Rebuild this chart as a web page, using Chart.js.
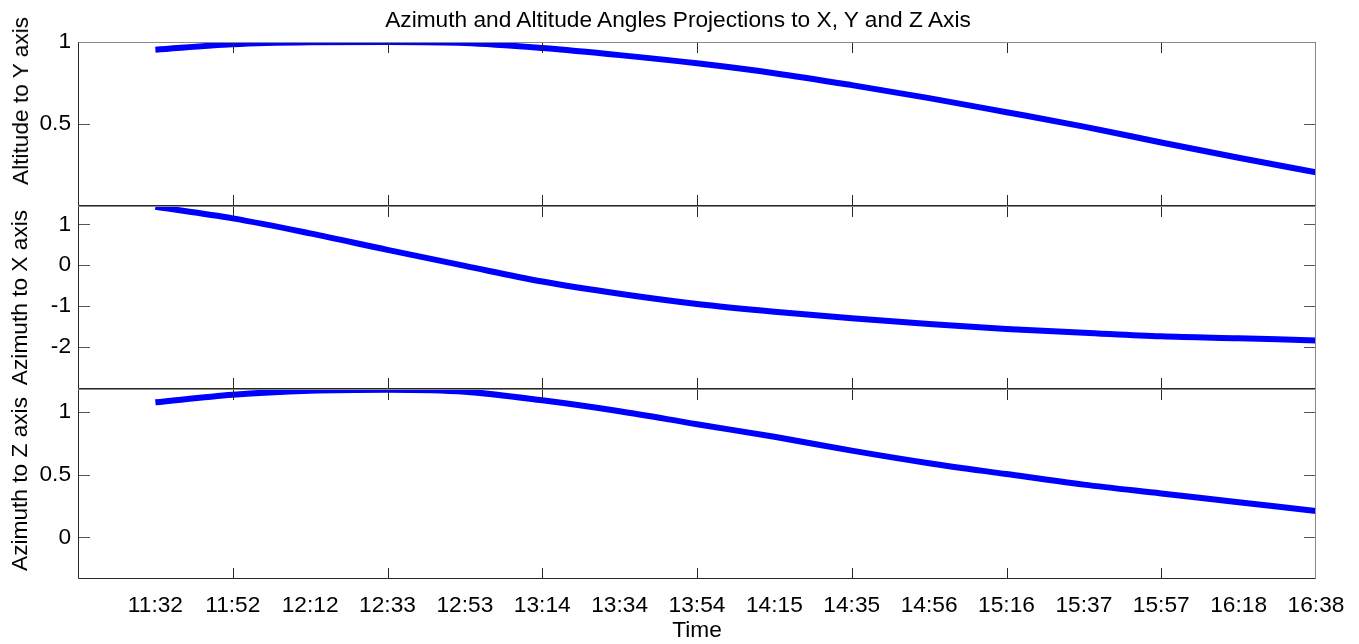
<!DOCTYPE html>
<html>
<head>
<meta charset="utf-8">
<script src="https://cdn.jsdelivr.net/npm/chart.js@4"></script>
<style>
  html, body { margin: 0; padding: 0; background: #fff; }
  #wrap { position: relative; width: 1359px; height: 644px; }
  #wrap canvas { position: absolute; left: 0; top: 0; }
  .txt {
    position: absolute; font: 22.7px "Liberation Sans", Arial, Helvetica, sans-serif;
    color: #000; white-space: nowrap; line-height: 28px;
  }
  #title { left: 40px; width: 1276px; top: 5px; text-align: center; }
  #topLabel { left: 20px; top: 101px; transform: translate(-50%, -50%) rotate(-90deg); }
</style>
</head>
<body>
<div id="wrap">
  <canvas id="altY" width="1359" height="644"></canvas>
  <canvas id="aziX" width="1359" height="644"></canvas>
  <canvas id="aziZ" width="1359" height="644"></canvas>
  <div id="title" class="txt">Azimuth and Altitude Angles Projections to X, Y and Z Axis</div>
  <div id="topLabel" class="txt">Altitude to Y axis</div>
</div>
<script>
// time labels, one per sample
const timeLabels = ['11:32', '11:52', '12:12', '12:33', '12:53', '13:14', '13:34', '13:54',
  '14:15', '14:35', '14:56', '15:16', '15:37', '15:57', '16:18', '16:38'];

// values at each time label
const altitudeToY = [0.953, 0.986, 0.998, 1.0, 0.994, 0.963, 0.92, 0.87,
  0.81, 0.737, 0.658, 0.572, 0.484, 0.387, 0.294, 0.206];
const azimuthToX = [1.43, 1.147, 0.78, 0.376, -0.016, -0.40, -0.70, -0.95,
  -1.14, -1.30, -1.44, -1.56, -1.65, -1.74, -1.79, -1.84];
const azimuthToZ = [1.074, 1.135, 1.167, 1.175, 1.159, 1.09, 1.003, 0.90,
  0.80, 0.69, 0.59, 0.504, 0.42, 0.35, 0.28, 0.21];

// y tick values per panel
const ticksAltY = [0.5, 1];
const ticksAziX = [-2, -1, 0, 1];
const ticksAziZ = [0, 0.5, 1];

Chart.defaults.font.family = '"Liberation Sans", Arial, Helvetica, sans-serif';
Chart.defaults.font.size = 22.7;
Chart.defaults.color = '#000';

const points = vals => vals.map((v, i) => ({ x: i, y: v }));

// matlab style box with inward tick marks
const boxPlugin = {
  id: 'matlabBox',
  afterDatasetsDraw(chart) {
    const { ctx, chartArea: a, scales: { x, y } } = chart;
    const seg = (x1, y1, x2, y2) => { ctx.beginPath(); ctx.moveTo(x1, y1); ctx.lineTo(x2, y2); ctx.stroke(); };
    ctx.save();
    ctx.lineWidth = 1;
    ctx.strokeStyle = '#262626';
    // skip the two ends, they sit on the box edges
    for (let v = x.min + 2; v < x.max - 0.001; v += 2) {
      const px = Math.round(x.getPixelForValue(v)) + 0.5;
      seg(px, a.top, px, a.top + 11);
      seg(px, a.bottom, px, a.bottom - 11);
    }
    ctx.strokeStyle = '#555';
    y.ticks.forEach(t => {
      const py = Math.round(y.getPixelForValue(t.value)) + 0.5;
      seg(a.left, py, a.left + 12, py);
      seg(a.right, py, a.right - 12, py);
    });
    const l = Math.round(a.left) + 0.5, r = Math.round(a.right) - 0.5;
    const t = Math.round(a.top) + 0.5, b = Math.round(a.bottom) - 0.5;
    ctx.strokeStyle = '#888';
    seg(l, t, r, t);
    seg(r, t, r, b);
    ctx.strokeStyle = '#262626';
    seg(l, t, l, b);
    seg(l, b, r, b);
    ctx.restore();
  }
};

function makePanel(id, values, yMin, yMax, yTicks, yTitle, padTop, padBottom, isBottom) {
  return new Chart(document.getElementById(id), {
    type: 'line',
    data: {
      datasets: [{
        data: points(values),
        borderColor: '#0000ff',
        borderWidth: 6,
        pointRadius: 0,
        cubicInterpolationMode: 'monotone',
        fill: false,
        clip: 0
      }]
    },
    options: {
      responsive: false,
      animation: false,
      devicePixelRatio: 1,
      layout: { padding: { left: 0, right: 43, top: padTop, bottom: padBottom } },
      plugins: {
        legend: { display: false },
        tooltip: { enabled: false }
      },
      scales: {
        x: {
          type: 'linear',
          min: -1,
          max: 15,
          display: isBottom,
          grid: { display: false, drawTicks: false },
          border: { display: false },
          ticks: {
            stepSize: 1,
            autoSkip: false,
            maxRotation: 0,
            padding: 13,
            callback: v => timeLabels[v] !== undefined ? timeLabels[v] : ''
          },
          title: { display: true, text: 'Time', padding: { top: 0, bottom: 0 } },
          afterFit: s => { if (isBottom) s.height = 65; }
        },
        y: {
          min: yMin,
          max: yMax,
          grid: { display: false, drawTicks: false },
          border: { display: false },
          ticks: { padding: 7, callback: v => String(v) },
          afterBuildTicks: s => { s.ticks = yTicks.map(v => ({ value: v })); },
          afterFit: s => { s.width = 78; },
          title: { display: !!yTitle, text: yTitle, padding: { top: 7, bottom: 0 } }
        }
      }
    },
    plugins: [boxPlugin]
  });
}

// top panel label is the html one above (sits higher than centre, as in the original)
makePanel('altY', altitudeToY, 0, 1, ticksAltY, '', 42, 438, false);
makePanel('aziX', azimuthToX, -3.03, 1.45, ticksAziX, 'Azimuth to X axis', 206, 255, false);
makePanel('aziZ', azimuthToZ, -0.33, 1.18, ticksAziZ, 'Azimuth to Z axis', 389, 0, true);
</script>
</body>
</html>
